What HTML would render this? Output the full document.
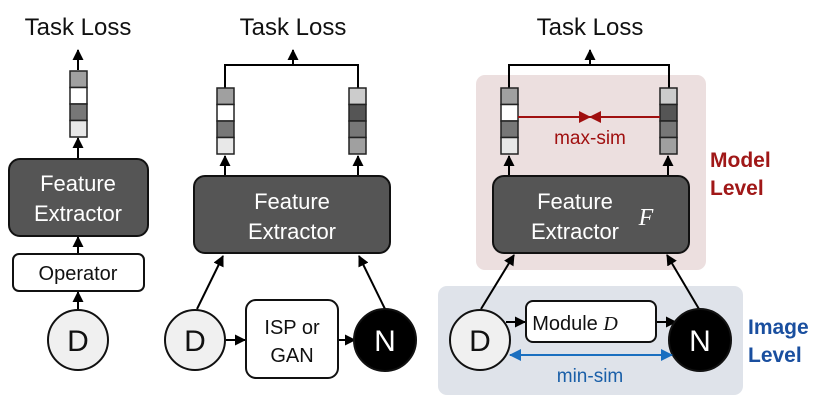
<!DOCTYPE html>
<html><head><style>body{margin:0;background:#fff}</style></head><body>
<svg width="830" height="403" viewBox="0 0 830 403" xmlns="http://www.w3.org/2000/svg" font-family="Liberation Sans, sans-serif">
<defs>
<marker id="a" markerWidth="11" markerHeight="11" refX="10" refY="5.5" orient="auto" markerUnits="userSpaceOnUse"><path d="M0,0 L11,5.5 L0,11z" fill="#000"/></marker>
<marker id="r" markerWidth="12" markerHeight="12" refX="11" refY="6" orient="auto" markerUnits="userSpaceOnUse"><path d="M0,0 L12,6 L0,12z" fill="#a01010"/></marker>
<marker id="b" markerWidth="12" markerHeight="12" refX="11" refY="6" orient="auto" markerUnits="userSpaceOnUse"><path d="M0,0 L12,6 L0,12z" fill="#1a6fc0"/></marker>
</defs>
<rect x="476" y="75" width="230" height="195" rx="9" fill="#ecdfdf"/>
<rect x="438" y="286" width="305" height="109" rx="9" fill="#dfe3ea"/>
<g font-size="24" text-anchor="middle" fill="#111">
<text x="78" y="35">Task Loss</text><text x="293" y="35">Task Loss</text><text x="590" y="35">Task Loss</text></g>
<g stroke="#000" stroke-width="2" fill="none">
<line x1="78" y1="70" x2="78" y2="50" marker-end="url(#a)"/>
<line x1="78" y1="158" x2="78" y2="138" marker-end="url(#a)"/>
<line x1="78" y1="253" x2="78" y2="237" marker-end="url(#a)"/>
<line x1="78" y1="310" x2="78" y2="292" marker-end="url(#a)"/>
<path d="M225,88 V65 H358 V88"/><line x1="293" y1="65" x2="293" y2="50" marker-end="url(#a)"/>
<line x1="225" y1="176" x2="225" y2="156" marker-end="url(#a)"/>
<line x1="358" y1="176" x2="358" y2="156" marker-end="url(#a)"/>
<line x1="197" y1="309" x2="223" y2="256" marker-end="url(#a)"/>
<line x1="385" y1="309" x2="359" y2="256" marker-end="url(#a)"/>
<line x1="226" y1="340" x2="245" y2="340" marker-end="url(#a)"/>
<line x1="339" y1="340" x2="355" y2="340" marker-end="url(#a)"/>
<path d="M509,88 V65 H669 V88"/><line x1="590" y1="65" x2="590" y2="50" marker-end="url(#a)"/>
<line x1="509" y1="176" x2="509" y2="156" marker-end="url(#a)"/>
<line x1="668" y1="176" x2="668" y2="156" marker-end="url(#a)"/>
<line x1="481" y1="309" x2="514" y2="255" marker-end="url(#a)"/>
<line x1="699" y1="309" x2="667" y2="255" marker-end="url(#a)"/>
<line x1="506" y1="322" x2="525" y2="322" marker-end="url(#a)"/>
<line x1="657" y1="322" x2="676" y2="322" marker-end="url(#a)"/>
</g>
<g stroke="#222" stroke-width="1.5">
<rect x="70" y="71" width="17" height="16.5" fill="#a0a0a0"/><rect x="70" y="87.5" width="17" height="16.5" fill="#fff"/><rect x="70" y="104" width="17" height="16.5" fill="#777"/><rect x="70" y="120.5" width="17" height="16.5" fill="#e8e8e8"/>
<rect x="217" y="88" width="17" height="16.5" fill="#a0a0a0"/><rect x="217" y="104.5" width="17" height="16.5" fill="#fff"/><rect x="217" y="121" width="17" height="16.5" fill="#777"/><rect x="217" y="137.5" width="17" height="16.5" fill="#e8e8e8"/>
<rect x="349" y="88" width="17" height="16.5" fill="#ccc"/><rect x="349" y="104.5" width="17" height="16.5" fill="#555"/><rect x="349" y="121" width="17" height="16.5" fill="#777"/><rect x="349" y="137.5" width="17" height="16.5" fill="#a0a0a0"/>
<rect x="501" y="88" width="17" height="16.5" fill="#a0a0a0"/><rect x="501" y="104.5" width="17" height="16.5" fill="#fff"/><rect x="501" y="121" width="17" height="16.5" fill="#777"/><rect x="501" y="137.5" width="17" height="16.5" fill="#e8e8e8"/>
<rect x="660" y="88" width="17" height="16.5" fill="#ccc"/><rect x="660" y="104.5" width="17" height="16.5" fill="#555"/><rect x="660" y="121" width="17" height="16.5" fill="#777"/><rect x="660" y="137.5" width="17" height="16.5" fill="#a0a0a0"/>
</g>
<g stroke="#111" stroke-width="2">
<rect x="9" y="159" width="139" height="77" rx="11" fill="#555"/>
<rect x="194" y="176" width="196" height="77" rx="11" fill="#555"/>
<rect x="493" y="176" width="196" height="77" rx="11" fill="#555"/>
<rect x="13" y="254" width="131" height="37" rx="6" fill="#fff"/>
<rect x="246" y="300" width="92" height="78" rx="10" fill="#fff"/>
<rect x="526" y="301" width="130" height="41" rx="7" fill="#fff"/>
<circle cx="78" cy="340" r="30" fill="#f0f0f0"/>
<circle cx="195" cy="340" r="30" fill="#f0f0f0"/>
<circle cx="385" cy="340" r="31" fill="#000"/>
<circle cx="480" cy="340" r="30" fill="#f0f0f0"/>
<circle cx="700" cy="340" r="31" fill="#000"/>
</g>
<line x1="518" y1="117" x2="590" y2="117" stroke="#a01010" stroke-width="2" marker-end="url(#r)"/>
<line x1="660" y1="117" x2="590" y2="117" stroke="#a01010" stroke-width="2" marker-end="url(#r)"/>
<line x1="590" y1="355" x2="510" y2="355" stroke="#1a6fc0" stroke-width="2" marker-end="url(#b)"/>
<line x1="590" y1="355" x2="672" y2="355" stroke="#1a6fc0" stroke-width="2" marker-end="url(#b)"/>
<g font-size="22" text-anchor="middle" fill="#fff">
<text x="78" y="191">Feature</text><text x="78" y="221">Extractor</text>
<text x="292" y="209">Feature</text><text x="292" y="239">Extractor</text>
<text x="575" y="209">Feature</text><text x="575" y="239">Extractor</text>
</g>
<text x="646" y="225" font-family="Liberation Serif, serif" font-style="italic" font-size="24" fill="#fff" text-anchor="middle">F</text>
<g font-size="20" text-anchor="middle" fill="#111">
<text x="78" y="280">Operator</text>
<text x="292" y="334">ISP or</text><text x="292" y="362">GAN</text>
<text x="575" y="330">Module <tspan font-family="Liberation Serif, serif" font-style="italic">D</tspan></text>
</g>
<g font-size="30" text-anchor="middle">
<text x="78" y="351" fill="#111">D</text><text x="195" y="351" fill="#111">D</text><text x="480" y="351" fill="#111">D</text>
<text x="385" y="351" fill="#fff">N</text><text x="700" y="351" fill="#fff">N</text>
</g>
<text x="590" y="144" font-size="19" text-anchor="middle" fill="#a01010">max-sim</text>
<text x="590" y="382" font-size="19" text-anchor="middle" fill="#1a5fa8">min-sim</text>
<g font-size="21" font-weight="bold" fill="#a01818"><text x="710" y="167">Model</text><text x="710" y="195">Level</text></g>
<g font-size="21" font-weight="bold" fill="#1a4f9f"><text x="748" y="334">Image</text><text x="748" y="362">Level</text></g>
</svg>
</body></html>
